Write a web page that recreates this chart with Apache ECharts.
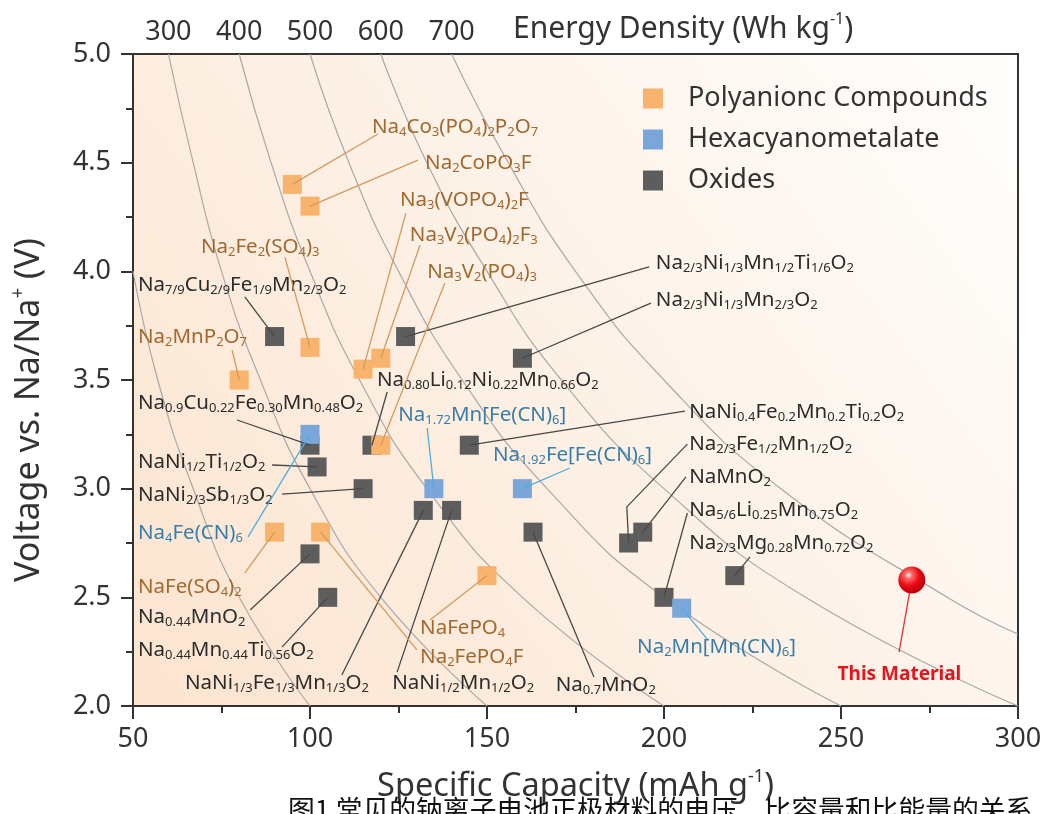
<!DOCTYPE html>
<html><head><meta charset="utf-8">
<script src="https://cdn.jsdelivr.net/npm/echarts/dist/echarts.min.js"></script>
<style>html,body{margin:0;padding:0;background:#fff}#c{width:1045px;height:814px}</style>
</head><body><div id="c"></div>
<script>
const FONT = '"Noto Sans", "Open Sans", sans-serif';

// ---- categories ----
const groupNames = ['Polyanionc Compounds', 'Hexacyanometalate', 'Oxides'];

// ---- Polyanionic compounds ----
const polyNames = ['Na_{4}Co_{3}(PO_{4})_{2}P_{2}O_{7}', 'Na_{2}CoPO_{3}F', 'Na_{3}(VOPO_{4})_{2}F',
  'Na_{3}V_{2}(PO_{4})_{2}F_{3}', 'Na_{3}V_{2}(PO_{4})_{3}', 'Na_{2}Fe_{2}(SO_{4})_{3}', 'Na_{2}MnP_{2}O_{7}',
  'NaFe(SO_{4})_{2}', 'Na_{2}FePO_{4}F', 'NaFePO_{4}'];
const polyCap  = [95, 100, 115, 120, 120, 100, 80, 90, 103, 150];
const polyVolt = [4.4, 4.3, 3.55, 3.6, 3.2, 3.65, 3.5, 2.8, 2.8, 2.6];

// ---- Hexacyanometalate ----
const hexNames = ['Na_{4}Fe(CN)_{6}', 'Na_{1.72}Mn[Fe(CN)_{6}]', 'Na_{1.92}Fe[Fe(CN)_{6}]', 'Na_{2}Mn[Mn(CN)_{6}]'];
const hexCap  = [100, 135, 160, 205];
const hexVolt = [3.25, 3.0, 3.0, 2.45];

// ---- Oxides ----
const oxNames = ['Na_{7/9}Cu_{2/9}Fe_{1/9}Mn_{2/3}O_{2}', 'Na_{2/3}Ni_{1/3}Mn_{1/2}Ti_{1/6}O_{2}',
  'Na_{2/3}Ni_{1/3}Mn_{2/3}O_{2}', 'Na_{0.9}Cu_{0.22}Fe_{0.30}Mn_{0.48}O_{2}',
  'Na_{0.80}Li_{0.12}Ni_{0.22}Mn_{0.66}O_{2}', 'NaNi_{0.4}Fe_{0.2}Mn_{0.2}Ti_{0.2}O_{2}',
  'NaNi_{1/2}Ti_{1/2}O_{2}', 'NaNi_{2/3}Sb_{1/3}O_{2}', 'NaNi_{1/3}Fe_{1/3}Mn_{1/3}O_{2}',
  'NaNi_{1/2}Mn_{1/2}O_{2}', 'Na_{0.7}MnO_{2}', 'Na_{0.44}MnO_{2}', 'Na_{0.44}Mn_{0.44}Ti_{0.56}O_{2}',
  'Na_{2/3}Fe_{1/2}Mn_{1/2}O_{2}', 'NaMnO_{2}', 'Na_{5/6}Li_{0.25}Mn_{0.75}O_{2}', 'Na_{2/3}Mg_{0.28}Mn_{0.72}O_{2}'];
const oxCap  = [90, 127, 160, 100, 117.5, 145, 102, 115, 132, 140, 163, 100, 105, 190, 194, 200, 220];
const oxVolt = [3.7, 3.7, 3.6, 3.2, 3.2, 3.2, 3.1, 3.0, 2.9, 2.9, 2.8, 2.7, 2.5, 2.75, 2.8, 2.5, 2.6];

// ---- This material ----
const thisNames = ['This Material'];
const thisCap  = [270];
const thisVolt = [2.58];

// ---- top axis (energy density) tick labels, placed where each iso-energy curve meets V = 5.0 ----
const energyTicks = [300, 400, 500, 600, 700];
const topVolt = 5.0;

// ---- iso-energy guide curves ----
const iso200Cap = [50, 57, 67, 80, 100];            const iso200Volt = [4.0, 3.5, 3.0, 2.5, 2.0];
const iso300Cap = [60, 67, 75, 86, 100, 120, 150];  const iso300Volt = [5.0, 4.5, 4.0, 3.5, 3.0, 2.5, 2.0];
const iso400Cap = [80, 89, 100, 114, 133, 160, 200]; const iso400Volt = [5.0, 4.5, 4.0, 3.5, 3.0, 2.5, 2.0];
const iso500Cap = [100, 111, 125, 143, 167, 200, 250]; const iso500Volt = [5.0, 4.5, 4.0, 3.5, 3.0, 2.5, 2.0];
const iso600Cap = [120, 133, 150, 171, 200, 240, 300]; const iso600Volt = [5.0, 4.5, 4.0, 3.5, 3.0, 2.5, 2.0];
const iso700Cap = [140, 156, 175, 200, 233, 280, 300]; const iso700Volt = [5.0, 4.5, 4.0, 3.5, 3.0, 2.5, 2.33];

// ---- annotation layout (data coords): [lineEndCap, lineEndVolt, textCap, textVolt, align] ----
const polyLabelPos = [
  [119.2, 4.632, 117.5, 4.664], [130.5, 4.512, 132.5, 4.498], [127.1, 4.268, 125.4, 4.328],
  [131.1, 4.121, 128.2, 4.167], [138.1, 3.946, 133.1, 3.997], [92.9, 4.066, 69.2, 4.112],
  [78.0, 3.638, 51.4, 3.698], [81.6, 2.612, 51.4, 2.548], [130.2, 2.258, 131.1, 2.225],
  [133.9, 2.396, 131.1, 2.359]];
const hexLabelPos = [
  [82.5, 2.778, 51.4, 2.796], [133.1, 3.279, 124.9, 3.339], [173.4, 3.095, 151.7, 3.155],
  [212.4, 2.304, 192.4, 2.271]];
const oxLabelPos = [
  [81.6, 3.882, 51.4, 3.937], [195.8, 4.02, 197.7, 4.038], [196.3, 3.854, 197.7, 3.868],
  [79.4, 3.316, 51.4, 3.394], [121.8, 3.445, 118.9, 3.50], [205.9, 3.357, 207.1, 3.353],
  [89.3, 3.109, 51.4, 3.123], [92.1, 2.975, 51.4, 2.971], [109.0, 2.143, 64.7, 2.106],
  [124.6, 2.156, 123.2, 2.106], [180.2, 2.133, 169.4, 2.097], [83.1, 2.442, 51.4, 2.41],
  [92.1, 2.271, 51.4, 2.258], [206.6, 3.205, 207.1, 3.205], [206.2, 3.054, 207.1, 3.054],
  [206.6, 2.888, 207.1, 2.902], [224.3, 2.686, 207.1, 2.75]];
const oxLabelMid = [null, null, null, null, null, null, null, null, null, null, null, null, null,
  [189.5, 2.916], null, null, null];
const thisLabelPos = [[266.4, 2.248, 266.5, 2.143, 'center']];

const caption = '图1 常见的钠离子电池正极材料的电压、比容量和比能量的关系';

// ---- helpers ----
function pairs(c, v) { return c.map((x, i) => [x, v[i]]); }
function toRich(s) {
  return s.replace(/_\{([^}]*)\}|\^\{([^}]*)\}|([^_^]+)/g, (m, a, b, c) =>
    a !== undefined ? '{s|' + a + '}' : (b !== undefined ? '{p|' + b + '}' : '{n|' + c + '}'));
}
const RICH = {
  n: { fontSize: 20.5, lineHeight: 23, fontFamily: FONT },
  s: { fontSize: 13, lineHeight: 8, verticalAlign: 'bottom', fontFamily: FONT },
  p: { fontSize: 13, lineHeight: 8, verticalAlign: 'top', fontFamily: FONT }
};
function makeAnno(names, layout, textColor, lineColor, mids, bold) {
  return function (params, api) {
    const i = params.dataIndex;
    const L = layout[i];
    const p = api.coord([api.value(0), api.value(1)]);
    const pts = [p];
    if (mids && mids[i]) pts.push(api.coord(mids[i]));
    pts.push(api.coord([L[0], L[1]]));
    const t = api.coord([L[2], L[3]]);
    return {
      type: 'group', children: [
        { type: 'polyline', shape: { points: pts }, style: { stroke: lineColor, lineWidth: 1.3, fill: null } },
        { type: 'text', x: t[0], y: t[1], style: {
            text: bold ? names[i] : toRich(names[i]), fill: textColor, fontFamily: FONT,
            fontSize: 19, fontWeight: bold ? 'bold' : 'normal',
            align: L[4] || 'left', verticalAlign: 'middle', rich: bold ? undefined : RICH } }
      ]
    };
  };
}
function isoSeries(c, v) {
  return { type: 'line', data: pairs(c, v), smooth: 0.5, symbol: 'none', silent: true, z: 1,
    lineStyle: { color: '#a9a9a9', width: 1.2 } };
}

const AX = '#333';
const chart = echarts.init(document.getElementById('c'), null, { renderer: 'canvas' });
const option = {
  animation: false,
  backgroundColor: '#ffffff',
  textStyle: { fontFamily: FONT },
  title: {
    text: '{n|Energy Density (Wh kg}{p|-1}{n|)}', left: 508, top: 6,
    textStyle: { fontWeight: 'normal', rich: {
      n: { fontSize: 30, color: AX, fontFamily: FONT, fontWeight: 'normal', lineHeight: 36 },
      p: { fontSize: 16, color: AX, fontFamily: FONT, fontWeight: 'normal', verticalAlign: 'top', lineHeight: 16 } } }
  },
  legend: {
    orient: 'vertical', left: 638, top: 80, itemWidth: 20, itemHeight: 20, itemGap: 14, icon: 'rect',
    data: groupNames,
    textStyle: { fontSize: 27, color: AX, fontFamily: FONT, padding: [0, 0, 0, 20] }
  },
  grid: {
    left: 133, right: 27, top: 54, bottom: 108, show: true, borderWidth: 0, outerBoundsMode: 'none',
    backgroundColor: { type: 'linear', x: 0, y: 1, x2: 1, y2: 0,
      colorStops: [{ offset: 0, color: '#fce4cf' }, { offset: 0.5, color: '#fdf1e6' }, { offset: 1, color: '#fffefd' }] }
  },
  xAxis: [
    { type: 'value', min: 50, max: 300, interval: 50, position: 'bottom',
      name: '{n|Specific Capacity (mAh g}{p|-1}{n|)}', nameLocation: 'middle', nameGap: 62,
      nameTextStyle: { rich: {
        n: { fontSize: 32.5, color: AX, fontFamily: FONT, lineHeight: 38 },
        p: { fontSize: 18, color: AX, fontFamily: FONT, verticalAlign: 'top', lineHeight: 16 } } },
      axisLine: { show: true, onZero: false, lineStyle: { color: AX, width: 2 } },
      axisTick: { show: true, length: 13, lineStyle: { color: AX, width: 2 } },
      minorTick: { show: true, splitNumber: 2, length: 7, lineStyle: { color: AX, width: 2 } },
      axisLabel: { fontSize: 27, color: AX, margin: 20, showMinLabel: true, showMaxLabel: true },
      splitLine: { show: false }, minorSplitLine: { show: false } },
    { type: 'value', min: 50, max: 300, interval: 10, position: 'top',
      axisLine: { show: true, onZero: false, lineStyle: { color: AX, width: 2 } },
      axisTick: { show: false },
      axisLabel: { fontSize: 27, color: AX, margin: 8, showMinLabel: true, showMaxLabel: true,
        formatter: function (v) {
          const k = energyTicks.findIndex(e => Math.abs(e / topVolt - v) < 0.01);
          return k >= 0 ? String(energyTicks[k]) : '';
        } },
      splitLine: { show: false } }
  ],
  yAxis: [
    { type: 'value', min: 2, max: 5, interval: 0.5, position: 'left',
      name: '{n|Voltage vs. Na/Na}{p|+}{n| (V)}', nameLocation: 'middle', nameGap: 84, nameRotate: 90,
      nameTextStyle: { padding: [0, 60, 0, 0], rich: {
        n: { fontSize: 34, color: AX, fontFamily: FONT, lineHeight: 40 },
        p: { fontSize: 19, color: AX, fontFamily: FONT, verticalAlign: 'top', lineHeight: 16 } } },
      axisLine: { show: true, onZero: false, lineStyle: { color: AX, width: 2 } },
      axisTick: { show: true, length: 12, lineStyle: { color: AX, width: 2 } },
      minorTick: { show: true, splitNumber: 2, length: 7, lineStyle: { color: AX, width: 2 } },
      axisLabel: { fontSize: 27, color: AX, margin: 22, showMinLabel: true, showMaxLabel: true,
        formatter: v => v.toFixed(1) },
      splitLine: { show: false }, minorSplitLine: { show: false } },
    { type: 'value', min: 2, max: 5, position: 'right',
      axisLine: { show: true, onZero: false, lineStyle: { color: AX, width: 2 } },
      axisTick: { show: false }, axisLabel: { show: false }, splitLine: { show: false } }
  ],
  graphic: [
    { type: 'text', left: 288, top: 796, z: 100,
      style: { text: caption, fontSize: 26.8, fontFamily: '"Noto Sans CJK SC", sans-serif', fill: '#111' } }
  ],
  series: [
    isoSeries(iso200Cap, iso200Volt), isoSeries(iso300Cap, iso300Volt), isoSeries(iso400Cap, iso400Volt),
    isoSeries(iso500Cap, iso500Volt), isoSeries(iso600Cap, iso600Volt), isoSeries(iso700Cap, iso700Volt),
    { name: groupNames[2], type: 'scatter', symbol: 'rect', symbolSize: 19, z: 2,
      itemStyle: { color: '#5d5d5d', opacity: 1 }, data: pairs(oxCap, oxVolt) },
    { name: groupNames[0], type: 'scatter', symbol: 'rect', symbolSize: 19, z: 3,
      itemStyle: { color: '#f8b36c', opacity: 1 }, data: pairs(polyCap, polyVolt) },
    { name: groupNames[1], type: 'scatter', symbol: 'rect', symbolSize: 19, z: 4,
      itemStyle: { color: '#7aa6da', opacity: 1 }, data: pairs(hexCap, hexVolt) },
    { type: 'custom', z: 5, silent: true, clip: false, data: pairs(oxCap, oxVolt),
      renderItem: makeAnno(oxNames, oxLabelPos, '#2b2b2b', '#484848', oxLabelMid) },
    { type: 'custom', z: 5, silent: true, clip: false, data: pairs(polyCap, polyVolt),
      renderItem: makeAnno(polyNames, polyLabelPos, '#a1682f', '#d49a5d') },
    { type: 'custom', z: 5, silent: true, clip: false, data: pairs(hexCap, hexVolt),
      renderItem: makeAnno(hexNames, hexLabelPos, '#3a7da8', '#4fadde') },
    { type: 'custom', z: 5, silent: true, clip: false, data: pairs(thisCap, thisVolt),
      renderItem: makeAnno(thisNames, thisLabelPos, '#e8141c', '#ee2a33', null, true) },
    { type: 'scatter', symbol: 'circle', symbolSize: 27, z: 6, silent: true, data: pairs(thisCap, thisVolt),
      itemStyle: { opacity: 1, color: { type: 'radial', x: 0.38, y: 0.32, r: 0.72,
        colorStops: [{ offset: 0, color: '#ffffff' }, { offset: 0.18, color: '#ff6b6b' },
                     { offset: 0.55, color: '#ea0a14' }, { offset: 1, color: '#b3000c' }] } } }
  ]
};
chart.setOption(option);
</script></body></html>
